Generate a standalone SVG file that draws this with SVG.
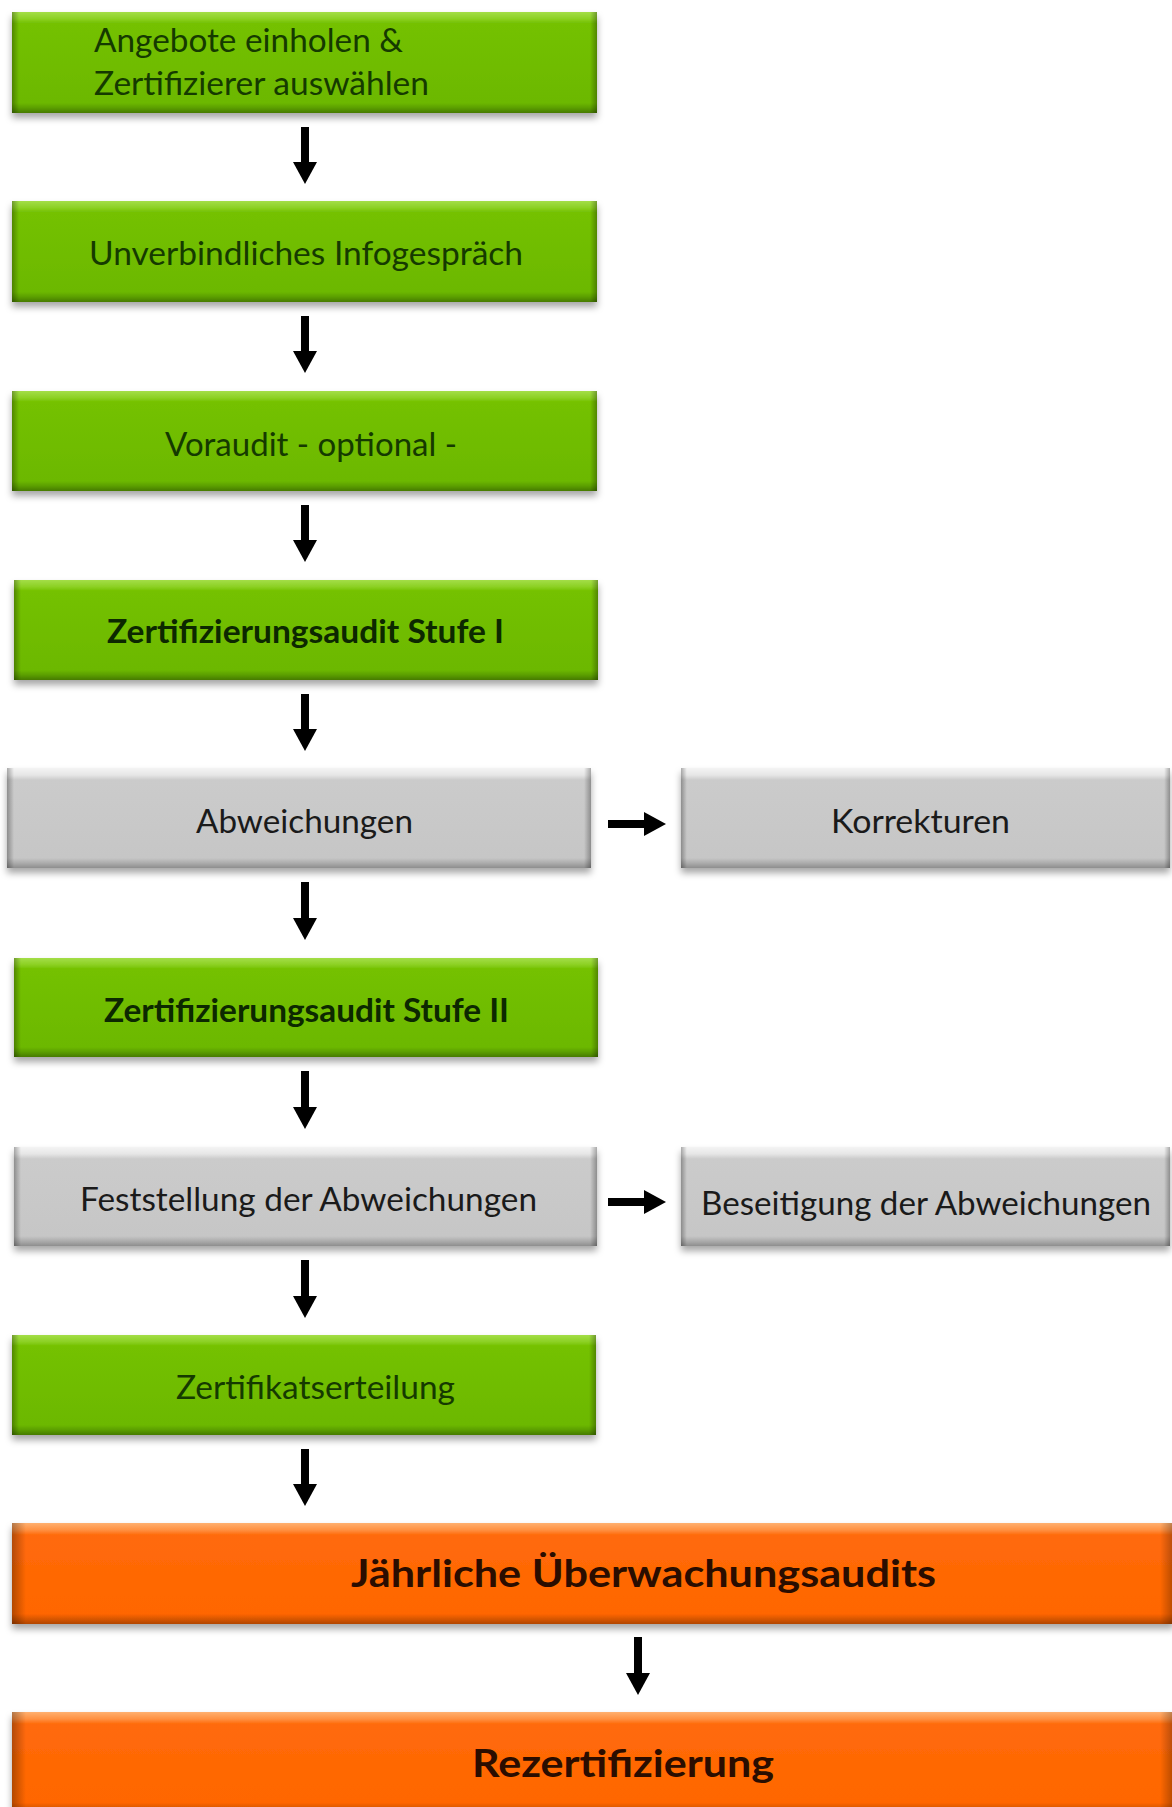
<svg xmlns="http://www.w3.org/2000/svg" width="1172" height="1807" viewBox="0 0 1172 1807">
  <defs>
    <style>
      .label { font-family: Lato, "Open Sans", "Liberation Sans", sans-serif; font-size: 32px; }
      .bold { font-weight: bold; }
      .big { font-size: 38px; font-weight: bold; }
      .t-green { fill: #153a00; }
      .t-green-b { fill: #0c2800; }
      .t-gray { fill: #1a1a1a; }
      .t-orange { fill: #2a0d00; }
      .green { fill: url(#gGreen); }
      .gray { fill: url(#gGray); }
      .orange { fill: url(#gOrange); }
      .sides { fill: url(#gSides); }
      .base { filter: url(#drop); }
      .conn { stroke: #000; stroke-width: 8; fill: none; marker-end: url(#head); }
    </style>
    <!-- bevelled fills: light top lip, flat face, darker bottom lip -->
    <linearGradient id="gGreen" x1="0" y1="0" x2="0" y2="1">
      <stop offset="0" stop-color="#a4de48"/>
      <stop offset="0.07" stop-color="#8bd022"/>
      <stop offset="0.11" stop-color="#74c102"/>
      <stop offset="0.9" stop-color="#6cb800"/>
      <stop offset="0.95" stop-color="#5b9e00"/>
      <stop offset="1" stop-color="#467a00"/>
    </linearGradient>
    <linearGradient id="gGray" x1="0" y1="0" x2="0" y2="1">
      <stop offset="0" stop-color="#f4f4f4"/>
      <stop offset="0.07" stop-color="#e6e6e6"/>
      <stop offset="0.12" stop-color="#cbcbcb"/>
      <stop offset="0.9" stop-color="#c6c6c6"/>
      <stop offset="0.95" stop-color="#acacac"/>
      <stop offset="1" stop-color="#8e8e8e"/>
    </linearGradient>
    <linearGradient id="gOrange" x1="0" y1="0" x2="0" y2="1">
      <stop offset="0" stop-color="#ffb070"/>
      <stop offset="0.07" stop-color="#ff9040"/>
      <stop offset="0.12" stop-color="#ff6a0a"/>
      <stop offset="0.9" stop-color="#ff6600"/>
      <stop offset="0.95" stop-color="#d85600"/>
      <stop offset="1" stop-color="#b04500"/>
    </linearGradient>
    <!-- darkened left and right edges laid over each face -->
    <linearGradient id="gSides" x1="0" y1="0" x2="1" y2="0">
      <stop offset="0" stop-color="#000" stop-opacity="0.3"/>
      <stop offset="0.012" stop-color="#000" stop-opacity="0"/>
      <stop offset="0.988" stop-color="#000" stop-opacity="0"/>
      <stop offset="1" stop-color="#000" stop-opacity="0.3"/>
    </linearGradient>
    <filter id="drop" x="-5%" y="-10%" width="110%" height="130%">
      <feDropShadow dx="0" dy="5" stdDeviation="3.5" flood-color="#000" flood-opacity="0.35"/>
    </filter>
    <marker id="head" viewBox="0 -12 22 24" refX="0" refY="0" markerWidth="22" markerHeight="24" markerUnits="userSpaceOnUse" orient="auto">
      <path d="M0,-12 L22,0 L0,12 Z" fill="#000"/>
    </marker>
  </defs>

  <rect x="0" y="0" width="1172" height="1807" fill="#fff"/>

  <g id="connectors">
    <line class="conn" x1="305" y1="127" x2="305" y2="162"/>
    <line class="conn" x1="305" y1="316" x2="305" y2="351"/>
    <line class="conn" x1="305" y1="505" x2="305" y2="540"/>
    <line class="conn" x1="305" y1="694" x2="305" y2="729"/>
    <line class="conn" x1="305" y1="882" x2="305" y2="918"/>
    <line class="conn" x1="305" y1="1071" x2="305" y2="1107"/>
    <line class="conn" x1="305" y1="1260" x2="305" y2="1296"/>
    <line class="conn" x1="305" y1="1449" x2="305" y2="1484"/>
    <line class="conn" x1="638" y1="1637" x2="638" y2="1673"/>
    <line class="conn" x1="608" y1="824" x2="644" y2="824"/>
    <line class="conn" x1="608" y1="1202" x2="644" y2="1202"/>
  </g>

  <g id="node-angebote">
    <rect class="base green" x="12" y="12" width="585" height="101"/>
    <rect class="sides" x="12" y="12" width="585" height="101"/>
    <text class="label t-green" x="94" y="52" textLength="309" lengthAdjust="spacingAndGlyphs">Angebote einholen &amp;</text>
    <text class="label t-green" x="94" y="95" textLength="335" lengthAdjust="spacingAndGlyphs">Zertifizierer auswählen</text>
  </g>

  <g id="node-infogespraech">
    <rect class="base green" x="12" y="201" width="585" height="101"/>
    <rect class="sides" x="12" y="201" width="585" height="101"/>
    <text class="label t-green" x="306" y="265" text-anchor="middle" textLength="434" lengthAdjust="spacingAndGlyphs">Unverbindliches Infogespräch</text>
  </g>

  <g id="node-voraudit">
    <rect class="base green" x="12" y="391" width="585" height="100"/>
    <rect class="sides" x="12" y="391" width="585" height="100"/>
    <text class="label t-green" x="311" y="456" text-anchor="middle" textLength="292" lengthAdjust="spacingAndGlyphs">Voraudit - optional -</text>
  </g>

  <g id="node-stufe1">
    <rect class="base green" x="14" y="580" width="584" height="100"/>
    <rect class="sides" x="14" y="580" width="584" height="100"/>
    <text class="label bold t-green-b" x="305.5" y="643" text-anchor="middle" textLength="397" lengthAdjust="spacingAndGlyphs">Zertifizierungsaudit Stufe I</text>
  </g>

  <g id="node-abweichungen">
    <rect class="base gray" x="7" y="768" width="584" height="100"/>
    <rect class="sides" x="7" y="768" width="584" height="100"/>
    <text class="label t-gray" x="304.5" y="833" text-anchor="middle" textLength="217" lengthAdjust="spacingAndGlyphs">Abweichungen</text>
  </g>

  <g id="node-korrekturen">
    <rect class="base gray" x="681" y="768" width="489" height="100"/>
    <rect class="sides" x="681" y="768" width="489" height="100"/>
    <text class="label t-gray" x="920.5" y="833" text-anchor="middle" textLength="179" lengthAdjust="spacingAndGlyphs">Korrekturen</text>
  </g>

  <g id="node-stufe2">
    <rect class="base green" x="14" y="958" width="584" height="99"/>
    <rect class="sides" x="14" y="958" width="584" height="99"/>
    <text class="label bold t-green-b" x="306.5" y="1022" text-anchor="middle" textLength="405" lengthAdjust="spacingAndGlyphs">Zertifizierungsaudit Stufe II</text>
  </g>

  <g id="node-feststellung">
    <rect class="base gray" x="14" y="1147" width="583" height="99"/>
    <rect class="sides" x="14" y="1147" width="583" height="99"/>
    <text class="label t-gray" x="308.5" y="1211" text-anchor="middle" textLength="457" lengthAdjust="spacingAndGlyphs">Feststellung der Abweichungen</text>
  </g>

  <g id="node-beseitigung">
    <rect class="base gray" x="681" y="1147" width="489" height="99"/>
    <rect class="sides" x="681" y="1147" width="489" height="99"/>
    <text class="label t-gray" x="926" y="1215" text-anchor="middle" textLength="450" lengthAdjust="spacingAndGlyphs">Beseitigung der Abweichungen</text>
  </g>

  <g id="node-zertifikat">
    <rect class="base green" x="12" y="1335" width="584" height="100"/>
    <rect class="sides" x="12" y="1335" width="584" height="100"/>
    <text class="label t-green" x="315.5" y="1399" text-anchor="middle" textLength="279" lengthAdjust="spacingAndGlyphs">Zertifikatserteilung</text>
  </g>

  <g id="node-ueberwachung">
    <rect class="base orange" x="12" y="1523" width="1162" height="101"/>
    <rect class="sides" x="12" y="1523" width="1162" height="101"/>
    <text class="label big t-orange" x="643.5" y="1587" text-anchor="middle" textLength="585" lengthAdjust="spacingAndGlyphs">Jährliche Überwachungsaudits</text>
  </g>

  <g id="node-rezertifizierung">
    <rect class="base orange" x="12" y="1712" width="1162" height="101"/>
    <rect class="sides" x="12" y="1712" width="1162" height="101"/>
    <text class="label big t-orange" x="623" y="1777" text-anchor="middle" textLength="302" lengthAdjust="spacingAndGlyphs">Rezertifizierung</text>
  </g>
</svg>
